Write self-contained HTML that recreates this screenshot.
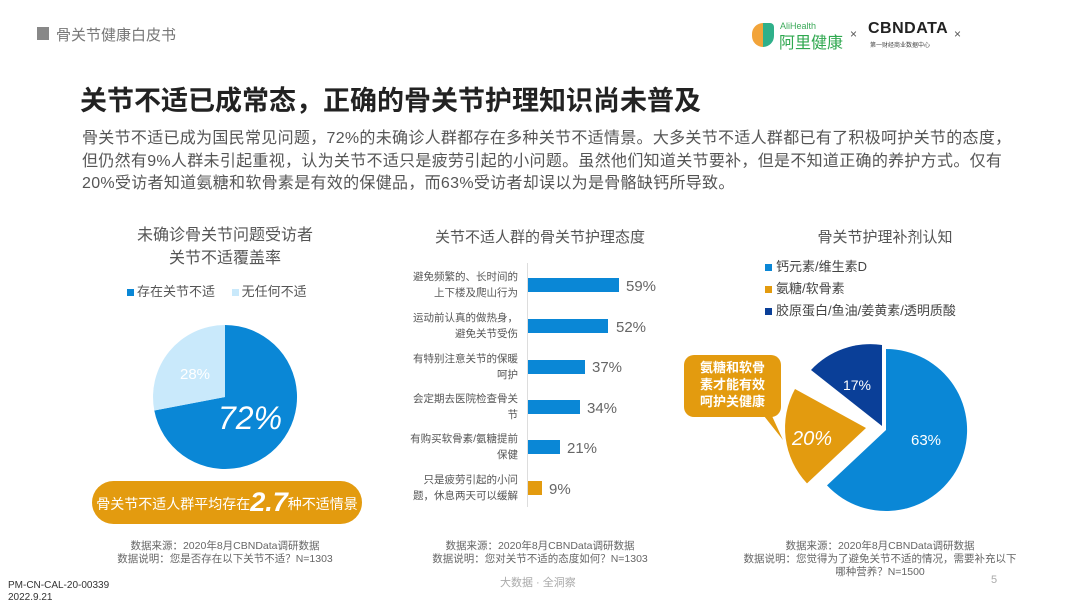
<!DOCTYPE html>
<html><head><meta charset="utf-8"><style>
body{margin:0;width:1080px;height:606px;background:#fff;overflow:hidden;font-family:"Liberation Sans","Noto Sans CJK SC",sans-serif;position:relative}
.a{position:absolute;white-space:nowrap}
.g{color:#666}
.note{font-size:10.5px;color:#666;text-align:center;line-height:13px}
.cl{font-size:10.5px;color:#555;text-align:right;line-height:16px;width:130px}
</style></head><body>
<div class="a" style="left:37px;top:27px;width:12px;height:13px;background:#888"></div>
<div class="a g" style="left:56px;top:24px;font-size:15px;color:#777">骨关节健康白皮书</div>
<div class="a" style="left:752px;top:23px;width:22px;height:24px;border-radius:11px 4px 11px 11px;background:linear-gradient(90deg,#f2a43a 50%,#2fb08a 50%)"></div>
<div class="a" style="left:780px;top:21px;font-size:9px;color:#3caa5a">AliHealth</div>
<div class="a" style="left:779px;top:29px;font-size:16px;color:#2fa84f">阿里健康</div>
<div class="a" style="left:850px;top:27px;font-size:12px;color:#555">×</div>
<div class="a" style="left:868px;top:20px;font-size:16px;font-weight:bold;color:#222;letter-spacing:0.5px">CBNDATA</div>
<div class="a" style="left:870px;top:40px;font-size:6px;color:#444">第一财经商业数据中心</div>
<div class="a" style="left:954px;top:27px;font-size:12px;color:#555">×</div>

<div class="a" style="left:80px;top:79px;font-size:27px;font-weight:bold;color:#222">关节不适已成常态，正确的骨关节护理知识尚未普及</div>
<div class="a" style="left:82px;top:128px;font-size:16px;color:#555;line-height:22.5px;letter-spacing:0.3px">骨关节不适已成为国民常见问题，72%的未确诊人群都存在多种关节不适情景。大多关节不适人群都已有了积极呵护关节的态度，<br>但仍然有9%人群未引起重视，认为关节不适只是疲劳引起的小问题。虽然他们知道关节要补，但是不知道正确的养护方式。仅有<br>20%受访者知道氨糖和软骨素是有效的保健品，而63%受访者却误以为是骨骼缺钙所导致。</div>

<div class="a" style="left:105px;top:224px;width:240px;text-align:center;font-size:16px;color:#555;line-height:23px">未确诊骨关节问题受访者<br>关节不适覆盖率</div>
<div class="a" style="left:127px;top:281px;font-size:13px;color:#555"><span style="display:inline-block;width:7px;height:7px;background:#0a87d6;margin-right:3px"></span>存在关节不适　 <span style="display:inline-block;width:7px;height:7px;background:#c9e9fb;margin-right:3px"></span>无任何不适</div>
<svg class="a" style="left:0;top:0" width="1080" height="606">
<path d="M225 397 L225 325 A72 72 0 1 1 154.3 410.5 Z" fill="#0a87d6"/>
<path d="M225 397 L154.3 410.5 A72 72 0 0 1 225 325 Z" fill="#c9e9fb"/>
<text x="195" y="379" font-size="15" fill="#fff" text-anchor="middle" font-family="Liberation Sans">28%</text>
<text x="250" y="429" font-size="32" fill="#fff" text-anchor="middle" font-style="italic" font-family="Liberation Sans">72%</text>
<line x1="527.5" y1="263" x2="527.5" y2="507" stroke="#ddd"/>
<rect x="528" y="278" width="91" height="14" fill="#0a87d6"/>
<rect x="528" y="319" width="80" height="14" fill="#0a87d6"/>
<rect x="528" y="360" width="57" height="14" fill="#0a87d6"/>
<rect x="528" y="400" width="52" height="14" fill="#0a87d6"/>
<rect x="528" y="440" width="32" height="14" fill="#0a87d6"/>
<rect x="528" y="481" width="14" height="14" fill="#e39b0f"/>
<g font-size="15" fill="#666" font-family="Liberation Sans">
<text x="626" y="291">59%</text><text x="616" y="332">52%</text><text x="592" y="372">37%</text>
<text x="587" y="413">34%</text><text x="567" y="453">21%</text><text x="549" y="494">9%</text></g>
<path d="M886 430 L886 349 A81 81 0 1 1 827 485.4 Z" fill="#0a87d6"/>
<path d="M882 426 L811 370 A81 81 0 0 1 882 345 Z" fill="#0a3f98"/>
<path d="M866 428 L807 483.4 A81 81 0 0 1 795 389 Z" fill="#e39b0f"/>
<text x="926" y="445" font-size="15" fill="#fff" text-anchor="middle" font-family="Liberation Sans">63%</text>
<text x="857" y="390" font-size="14" fill="#fff" text-anchor="middle" font-family="Liberation Sans">17%</text>
<text x="812" y="445" font-size="20" fill="#fff" text-anchor="middle" font-style="italic" font-family="Liberation Sans">20%</text>
<path d="M764 416 L783 440 L772 416 Z" fill="#e39b0f"/>
<rect x="684" y="355" width="97" height="62" rx="10" fill="#e39b0f"/>
<rect x="92" y="481" width="270" height="43" rx="21.5" fill="#e39b0f"/>
</svg>
<div class="a" style="left:92px;top:481px;width:270px;height:43px;line-height:43px;text-align:center;color:#fff;font-size:14px">骨关节不适人群平均存在<span style="font-size:27px;font-style:italic;font-weight:bold;vertical-align:-2px">2.7</span>种不适情景</div>
<div class="a" style="left:684px;top:359px;width:97px;text-align:center;color:#fff;font-size:13px;font-weight:bold;line-height:17px">氨糖和软骨<br>素才能有效<br>呵护关健康</div>

<div class="a note" style="left:105px;top:540px;width:240px">数据来源：2020年8月CBNData调研数据<br>数据说明：您是否存在以下关节不适？N=1303</div>
<div class="a" style="left:8px;top:580px;font-size:10px;color:#333;line-height:12px">PM-CN-CAL-20-00339<br>2022.9.21</div>

<div class="a" style="left:400px;top:226px;width:280px;text-align:center;font-size:15px;color:#555">关节不适人群的骨关节护理态度</div>
<div class="a cl" style="left:388px;top:269px">避免频繁的、长时间的<br>上下楼及爬山行为</div>
<div class="a cl" style="left:388px;top:310px">运动前认真的做热身，<br>避免关节受伤</div>
<div class="a cl" style="left:388px;top:351px">有特别注意关节的保暖<br>呵护　　　　</div>
<div class="a cl" style="left:388px;top:391px">会定期去医院检查骨关<br>节　　　　</div>
<div class="a cl" style="left:388px;top:431px">有购买软骨素/氨糖提前<br>保健　　　　</div>
<div class="a cl" style="left:388px;top:472px">只是疲劳引起的小问<br>题，休息两天可以缓解</div>
<div class="a note" style="left:410px;top:540px;width:260px">数据来源：2020年8月CBNData调研数据<br>数据说明：您对关节不适的态度如何？N=1303</div>
<div class="a" style="left:500px;top:574px;font-size:11px;color:#aaa">大数据 · 全洞察</div>

<div class="a" style="left:760px;top:226px;width:250px;text-align:center;font-size:15px;color:#555">骨关节护理补剂认知</div>
<div class="a" style="left:765px;top:256px;font-size:13px;color:#444;line-height:22px"><span style="display:inline-block;width:7px;height:7px;background:#0a87d6;margin-right:4px"></span>钙元素/维生素D<br><span style="display:inline-block;width:7px;height:7px;background:#e39b0f;margin-right:4px"></span>氨糖/软骨素<br><span style="display:inline-block;width:7px;height:7px;background:#0a3f98;margin-right:4px"></span>胶原蛋白/鱼油/姜黄素/透明质酸</div>
<div class="a note" style="left:720px;top:540px;width:320px">数据来源：2020年8月CBNData调研数据<br>数据说明：您觉得为了避免关节不适的情况，需要补充以下<br>哪种营养？N=1500</div>
<div class="a" style="left:991px;top:574px;font-size:11px;color:#aaa">5</div>
</body></html>
